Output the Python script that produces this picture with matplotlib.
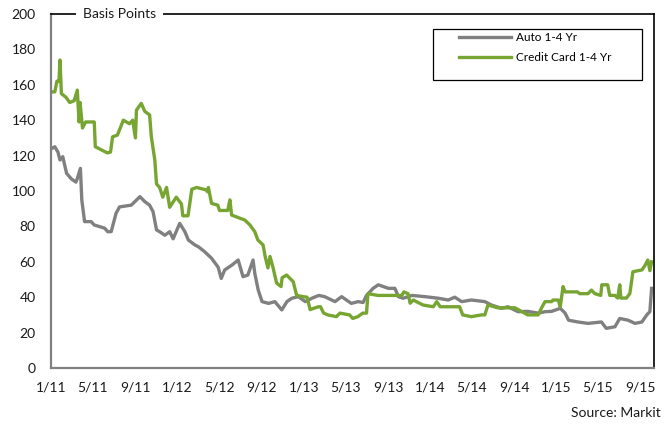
import matplotlib
matplotlib.use("Agg")
import matplotlib.pyplot as plt
import matplotlib.patches as mpatches
import pandas as pd

plt.rcParams['font.family'] = ['Lato', 'DejaVu Sans']

# ---- data (basis points) ----
auto_dates = [
    "2011-01-03", "2011-01-12", "2011-01-21", "2011-01-27", "2011-02-04", "2011-02-15",
    "2011-02-28", "2011-03-14", "2011-03-18", "2011-03-27", "2011-03-31", "2011-04-08",
    "2011-04-27", "2011-05-06", "2011-06-05", "2011-06-14", "2011-06-24", "2011-07-08",
    "2011-07-18", "2011-08-21", "2011-09-15", "2011-09-29", "2011-10-13", "2011-10-23",
    "2011-11-02", "2011-11-11", "2011-11-26", "2011-12-10", "2011-12-20", "2012-01-08",
    "2012-01-23", "2012-02-02", "2012-02-21", "2012-03-02", "2012-03-20", "2012-04-09",
    "2012-04-28", "2012-05-07", "2012-05-17", "2012-06-06", "2012-06-25", "2012-07-09",
    "2012-07-23", "2012-08-07", "2012-08-12", "2012-08-22", "2012-09-02", "2012-09-21",
    "2012-10-09", "2012-10-29", "2012-11-13", "2012-11-27", "2012-12-16", "2013-01-05",
    "2013-01-24", "2013-02-13", "2013-03-02", "2013-04-01", "2013-04-20", "2013-05-18",
    "2013-06-07", "2013-06-21", "2013-07-01", "2013-07-20", "2013-08-04", "2013-09-02",
    "2013-09-21", "2013-10-01", "2013-10-15", "2013-11-09", "2013-12-17", "2014-01-25",
    "2014-02-22", "2014-03-13", "2014-04-02", "2014-04-30", "2014-06-08", "2014-06-27",
    "2014-07-26", "2014-08-14", "2014-09-12", "2014-10-10", "2014-11-09", "2014-11-29",
    "2014-12-18", "2015-01-12", "2015-01-26", "2015-02-05", "2015-03-04", "2015-04-02",
    "2015-05-11", "2015-05-25", "2015-06-19", "2015-07-03", "2015-07-27", "2015-08-16",
    "2015-09-05", "2015-09-19", "2015-09-28", "2015-10-03",
]
auto_bp = [
    124, 125, 122, 117.5, 119.4, 110,
    107, 105, 107, 112.8, 95, 82.7,
    82.7, 80.8, 79, 77, 77, 87.4,
    91, 92, 96.8, 94, 92, 88.3,
    78, 77, 75, 77, 73, 81.7,
    77, 72.3, 69.5, 68.5, 65.7, 62,
    57, 50.6, 55.4, 58, 61, 51.6,
    52.5, 61, 53.5, 44, 37.5, 36.5,
    37.5, 32.8, 37.5, 39.4, 40.3, 37.5,
    39.4, 41, 40.3, 37.5, 40.3, 36.5,
    37.5, 37, 41, 45, 47, 45,
    45, 40.3, 39.4, 41, 40.3, 39.4,
    38.4, 40, 37.5, 38.4, 37.5, 35.6,
    33.7, 34.6, 31.8, 32, 31, 31.8,
    32, 33.7, 31, 27, 26, 25.2,
    26, 22.4, 23.3, 28, 27, 25.2,
    26, 30, 31.8, 45,
]

card_dates = [
    "2011-01-03", "2011-01-12", "2011-01-18", "2011-01-24", "2011-01-27", "2011-01-31",
    "2011-02-13", "2011-02-24", "2011-03-09", "2011-03-18", "2011-03-23", "2011-03-26",
    "2011-04-02", "2011-04-11", "2011-05-06", "2011-05-09", "2011-06-13", "2011-06-22",
    "2011-06-28", "2011-07-12", "2011-07-18", "2011-07-29", "2011-08-16", "2011-08-25",
    "2011-09-02", "2011-09-05", "2011-09-19", "2011-09-29", "2011-10-13", "2011-10-18",
    "2011-10-28", "2011-11-02", "2011-11-11", "2011-11-20", "2011-12-01", "2011-12-10",
    "2011-12-29", "2012-01-13", "2012-01-17", "2012-02-01", "2012-02-12", "2012-02-26",
    "2012-03-25", "2012-03-28", "2012-03-31", "2012-04-09", "2012-04-27", "2012-05-02",
    "2012-05-26", "2012-06-01", "2012-06-06", "2012-07-14", "2012-07-29", "2012-08-12",
    "2012-08-21", "2012-09-05", "2012-09-11", "2012-09-19", "2012-09-25", "2012-10-04",
    "2012-10-14", "2012-10-27", "2012-10-30", "2012-11-12", "2012-12-01", "2012-12-11",
    "2012-12-30", "2013-01-10", "2013-01-19", "2013-02-12", "2013-02-18", "2013-02-27",
    "2013-03-11", "2013-04-05", "2013-04-15", "2013-05-13", "2013-05-22", "2013-06-06",
    "2013-06-20", "2013-07-01", "2013-07-05", "2013-08-03", "2013-10-11", "2013-10-17",
    "2013-10-29", "2013-11-04", "2013-11-13", "2013-12-11", "2014-01-10", "2014-01-20",
    "2014-01-30", "2014-03-27", "2014-04-05", "2014-04-30", "2014-05-29", "2014-06-08",
    "2014-06-17", "2014-07-15", "2014-09-03", "2014-10-10", "2014-11-09", "2014-11-19",
    "2014-11-29", "2014-12-18", "2014-12-22", "2015-01-06", "2015-01-12", "2015-01-20",
    "2015-01-26", "2015-03-03", "2015-03-09", "2015-04-02", "2015-04-12", "2015-04-22",
    "2015-05-09", "2015-05-12", "2015-05-29", "2015-06-04", "2015-06-19", "2015-06-27",
    "2015-07-03", "2015-07-06", "2015-07-22", "2015-08-01", "2015-08-10", "2015-09-05",
    "2015-09-14", "2015-09-22", "2015-09-28", "2015-10-03",
]
card_bp = [
    156, 156, 162, 162, 174, 155,
    153, 150, 151, 157, 139, 150,
    135.6, 139, 139, 125, 121.5, 122,
    130.6, 131.6, 134.5, 140, 138, 140,
    130, 145.7, 149.5, 145, 143, 130.6,
    117.5, 104, 102, 96.5, 102, 90.8,
    96.5, 92.7, 86, 86, 101, 102,
    100.6, 99.6, 102, 93, 92, 89,
    89, 95, 86.4, 83.6, 80.8, 77,
    72.3, 69.5, 63, 56.5, 63, 56.5,
    48, 46, 51, 52.5, 48.8, 41,
    40.3, 40, 33, 34.6, 34.6, 31,
    30, 29, 31, 30, 28, 29,
    31, 31, 42, 41, 41, 43,
    42, 36.6, 38.4, 35.6, 34.6, 37.5,
    34.6, 34.6, 30, 29, 30, 30,
    35.6, 34, 34, 30, 30, 34,
    37.5, 37.5, 38.4, 38.4, 34.6, 46,
    43, 43, 42, 42, 44, 42,
    41, 47, 47, 41, 41, 39.5,
    47, 39.5, 39.5, 42, 54.4, 55.4,
    58, 61, 55, 60,
]

x_ticks = pd.date_range("2011-01-01", "2015-09-01", freq="4MS")
tick_labels = ["{}/{}".format(d.month, d.strftime("%y")) for d in x_ticks]

GRAY = "#808080"
GREEN = "#77A532"

fig = plt.figure(figsize=(6.65, 4.28), dpi=100, facecolor="white")
ax = fig.add_axes([0.0767, 0.1402, 0.9068, 0.8271])

ax.plot(pd.to_datetime(auto_dates), auto_bp, color=GRAY, lw=2.4, label="Auto 1-4 Yr")
ax.plot(pd.to_datetime(card_dates), card_bp, color=GREEN, lw=2.4, label="Credit Card 1-4 Yr")

ax.set_xlim(pd.Timestamp("2011-01-01"), pd.Timestamp("2015-10-10"))
ax.set_ylim(0, 200)
ax.set_yticks(range(0, 201, 20))
ax.set_xticks(x_ticks)
ax.set_xticklabels(tick_labels)
ax.tick_params(axis="both", length=0, labelsize=10, colors="#1a1a1a")
ax.tick_params(axis="x", pad=10)
ax.tick_params(axis="y", pad=11)

for side in ["left", "bottom"]:
    ax.spines[side].set_color(GRAY)
    ax.spines[side].set_linewidth(1.6)
for side in ["top", "right"]:
    ax.spines[side].set_color("black")
    ax.spines[side].set_linewidth(1.2)

ax.text(0.114, 1.0, "Basis Points", transform=ax.transAxes, ha="center", va="center",
        fontsize=10, color="#1a1a1a",
        bbox=dict(facecolor="white", edgecolor="none", pad=5))

# legend box drawn separately (wider side padding than matplotlib's legend frame)
box = mpatches.Rectangle((0.6335, 0.8136), 0.3465, 0.144, transform=ax.transAxes,
                         facecolor="white", edgecolor="black", lw=0.9, zorder=4)
ax.add_patch(box)
leg = ax.legend(loc="upper left", bbox_to_anchor=(0.676, 0.948), fontsize=8.5,
                frameon=False, handlelength=4.4, handletextpad=0.5,
                borderpad=0, labelspacing=0.75, borderaxespad=0)
leg.set_zorder(5)

fig.text(0.994, 0.035, "Source: Markit", ha="right", va="center", fontsize=10, color="#1a1a1a")

fig.savefig("out.png", dpi=100, facecolor="white")
